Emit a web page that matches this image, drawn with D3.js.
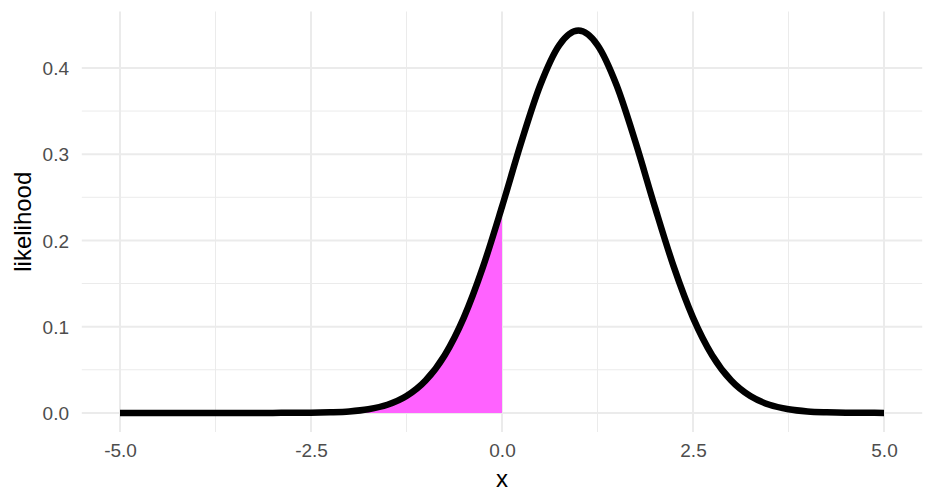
<!DOCTYPE html>
<html><head><meta charset="utf-8">
<script src="https://cdn.jsdelivr.net/npm/d3@7"></script>
<style>body{margin:0;background:#fff}svg{display:block}text{font-family:"Liberation Sans",Arial,sans-serif}</style>
</head><body>
<svg id="c" width="936" height="504"></svg>
<script>
const xs = [-5,-4.75,-4.5,-4.25,-4,-3.75,-3.5,-3.25,-3,-2.75,-2.5,-2.25,-2,-1.75,-1.5,-1.25,-1,-0.75,-0.5,-0.25,0,0.25,0.5,0.75,1,1.25,1.5,1.75,2,2.25,2.5,2.75,3,3.25,3.5,3.75,4,4.25,4.5,4.75,5];
const likelihood = [0,0,0,0,0,0,0,0,0,0.0001,0.0002,0.0007,0.0017,0.0042,0.0094,0.0195,0.0375,0.0669,0.1105,0.1690,0.2391,0.3132,0.3799,0.4265,0.4433,0.4265,0.3799,0.3132,0.2391,0.1690,0.1105,0.0669,0.0375,0.0195,0.0094,0.0042,0.0017,0.0007,0.0002,0.0001,0];
const shadeMax = 0;
const xTicks = [-5,-2.5,0,2.5,5];
const xMinor = [-3.75,-1.25,1.25,3.75];
const yTicks = [0,0.1,0.2,0.3,0.4];
const yMinor = [0.05,0.15,0.25,0.35];

const svg = d3.select("#c");
const L=81.8,R=922.2,T=11.5,B=432;
const x = d3.scaleLinear().domain([-5.5,5.5]).range([L,R]);
const yMaxData = d3.max(likelihood);
const y = d3.scaleLinear().domain([-0.05*yMaxData, yMaxData*1.05]).range([B,T]);
const fmt = d => d3.format(".1f")(d).replace("\u2212","-");

const g = svg.append("g");
g.selectAll(".xm").data(xMinor).join("line").attr("x1",d=>x(d)).attr("x2",d=>x(d)).attr("y1",T).attr("y2",B).attr("stroke","#ebebeb").attr("stroke-width",1);
g.selectAll(".ym").data(yMinor).join("line").attr("y1",d=>y(d)).attr("y2",d=>y(d)).attr("x1",L).attr("x2",R).attr("stroke","#ebebeb").attr("stroke-width",1);
g.selectAll(".xM").data(xTicks).join("line").attr("x1",d=>x(d)).attr("x2",d=>x(d)).attr("y1",T).attr("y2",B).attr("stroke","#ebebeb").attr("stroke-width",2);
g.selectAll(".yM").data(yTicks).join("line").attr("y1",d=>y(d)).attr("y2",d=>y(d)).attr("x1",L).attr("x2",R).attr("stroke","#ebebeb").attr("stroke-width",2);

const pts = xs.map((v,i)=>({x:v,y:likelihood[i]}));
const shadePts = pts.filter(p=>p.x<=shadeMax);
svg.append("path").datum(shadePts)
  .attr("d", d3.area().x(d=>x(d.x)).y0(y(0)).y1(d=>y(d.y)).curve(d3.curveMonotoneX))
  .attr("fill","#ff62ff");
svg.append("path").datum(pts)
  .attr("d", d3.line().x(d=>x(d.x)).y(d=>y(d.y)).curve(d3.curveMonotoneX))
  .attr("fill","none").attr("stroke","#000").attr("stroke-width",6.5).attr("stroke-linejoin","round");

const xAxis = d3.axisBottom(x).tickValues(xTicks).tickFormat(fmt).tickSize(0).tickPadding(0);
const ax = svg.append("g").attr("transform",`translate(0,${B})`).call(xAxis);
ax.select(".domain").remove();
ax.selectAll("text").attr("dy",null).attr("y",25).attr("fill","#4d4d4d").style("font-size","19px");
const yAxis = d3.axisLeft(y).tickValues(yTicks).tickFormat(fmt).tickSize(0).tickPadding(0);
const ay = svg.append("g").attr("transform",`translate(69,0)`).call(yAxis);
ay.select(".domain").remove();
ay.selectAll("text").attr("dy","0.35em").attr("x",0).attr("fill","#4d4d4d").style("font-size","19px");

svg.append("text").attr("x",(L+R)/2).attr("y",487).attr("text-anchor","middle").style("font-size","24px").text("x");
svg.append("text").attr("transform",`translate(31,${(T+B)/2}) rotate(-90)`).attr("text-anchor","middle").style("font-size","24px").text("likelihood");
</script>
</body></html>
